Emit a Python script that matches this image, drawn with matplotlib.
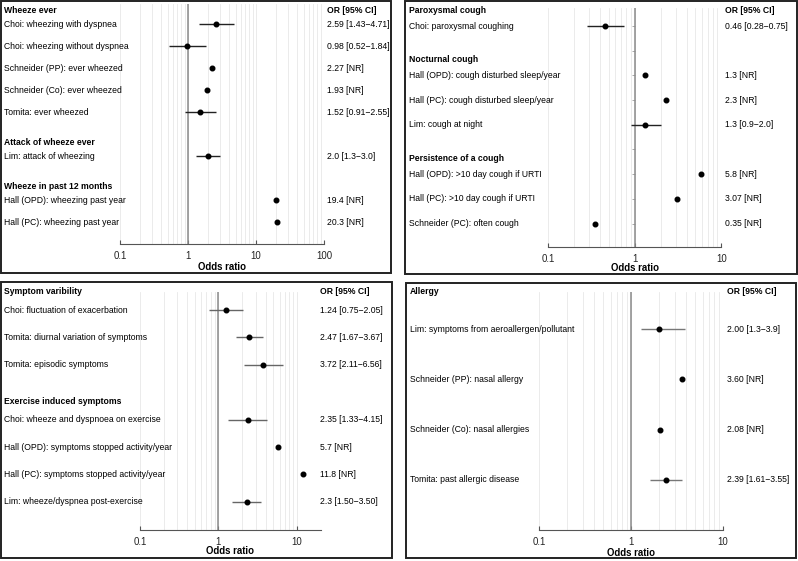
import matplotlib
matplotlib.use("Agg")
import matplotlib.pyplot as plt
from matplotlib.patches import Rectangle
from matplotlib.ticker import FixedLocator, LogLocator, NullFormatter, FuncFormatter
import numpy as np

plt.rcParams['font.family'] = ['Liberation Sans', 'DejaVu Sans']

NR = np.nan
NULL_OR = 1

# --- Wheeze ---
wheeze_sections = ["Wheeze ever", "Attack of wheeze ever", "Wheeze in past 12 months"]
wheeze_sizes = [5, 1, 2]
wheeze_labels = ["Choi: wheezing with dyspnea", "Choi: wheezing without dyspnea",
                 "Schneider (PP): ever wheezed", "Schneider (Co): ever wheezed",
                 "Tomita: ever wheezed", "Lim: attack of wheezing",
                 "Hall (OPD): wheezing past year", "Hall (PC): wheezing past year"]
wheeze_or = [2.59, 0.98, 2.27, 1.93, 1.52, 2.0, 19.4, 20.3]
wheeze_lo = [1.43, 0.52, NR, NR, 0.91, 1.3, NR, NR]
wheeze_hi = [4.71, 1.84, NR, NR, 2.55, 3.0, NR, NR]
wheeze_text = ["2.59 [1.43\u22124.71]", "0.98 [0.52\u22121.84]", "2.27 [NR]", "1.93 [NR]",
               "1.52 [0.91\u22122.55]", "2.0 [1.3\u22123.0]", "19.4 [NR]", "20.3 [NR]"]

# --- Cough ---
cough_sections = ["Paroxysmal cough", "Nocturnal cough", "Persistence of a cough"]
cough_sizes = [1, 3, 3]
cough_labels = ["Choi: paroxysmal coughing", "Hall (OPD): cough disturbed sleep/year",
                "Hall (PC): cough disturbed sleep/year", "Lim: cough at night",
                "Hall (OPD): >10 day cough if URTI", "Hall (PC): >10 day cough if URTI",
                "Schneider (PC): often cough"]
cough_or = [0.46, 1.3, 2.3, 1.3, 5.8, 3.07, 0.35]
cough_lo = [0.28, NR, NR, 0.9, NR, NR, NR]
cough_hi = [0.75, NR, NR, 2.0, NR, NR, NR]
cough_text = ["0.46 [0.28\u22120.75]", "1.3 [NR]", "2.3 [NR]", "1.3 [0.9\u22122.0]",
              "5.8 [NR]", "3.07 [NR]", "0.35 [NR]"]

# --- Variability / exercise ---
var_sections = ["Symptom varibility", "Exercise induced symptoms"]
var_sizes = [3, 4]
var_labels = ["Choi: fluctuation of exacerbation", "Tomita: diurnal variation of symptoms",
              "Tomita: episodic symptoms", "Choi: wheeze and dyspnoea on exercise",
              "Hall (OPD): symptoms stopped activity/year",
              "Hall (PC): symptoms stopped activity/year",
              "Lim: wheeze/dyspnea post-exercise"]
var_or = [1.24, 2.47, 3.72, 2.35, 5.7, 11.8, 2.3]
var_lo = [0.75, 1.67, 2.11, 1.33, NR, NR, 1.50]
var_hi = [2.05, 3.67, 6.56, 4.15, NR, NR, 3.50]
var_text = ["1.24 [0.75\u22122.05]", "2.47 [1.67\u22123.67]", "3.72 [2.11\u22126.56]",
            "2.35 [1.33\u22124.15]", "5.7 [NR]", "11.8 [NR]", "2.3 [1.50\u22123.50]"]

# --- Allergy ---
allergy_sections = ["Allergy"]
allergy_sizes = [4]
allergy_labels = ["Lim: symptoms from aeroallergen/pollutant", "Schneider (PP): nasal allergy",
                  "Schneider (Co): nasal allergies", "Tomita: past allergic disease"]
allergy_or = [2.00, 3.60, 2.08, 2.39]
allergy_lo = [1.3, NR, NR, 1.61]
allergy_hi = [3.9, NR, NR, 3.55]
allergy_text = ["2.00 [1.3\u22123.9]", "3.60 [NR]", "2.08 [NR]", "2.39 [1.61\u22123.55]"]

W, H = 798, 561
fig = plt.figure(figsize=(W / 100, H / 100), dpi=100)
ov = fig.add_axes([0, 0, 1, 1])
ov.set_xlim(0, W)
ov.set_ylim(H, 0)
ov.axis('off')
ov.set_zorder(10)  # text above the grid lines

FS = 6.2


def draw_panel(lay, sections, sizes, labels, ors, los, his, texts):
    x0, y0, x1, y1 = lay['box']
    ov.add_patch(Rectangle((x0, y0), x1 - x0, y1 - y0, fill=False, ec='#222222', lw=1.4))

    # row positions: header rows and item rows follow each other
    rows, head_rows = [], []
    r = 0
    for n in sizes:
        head_rows.append(r)
        rows += list(range(r + 1, r + 1 + n))
        r += n + 1
    ypos = lambda k: lay['row1'] + (k - 1) * lay['step']
    ys = [ypos(k) for k in rows]

    for name, k in zip(sections, head_rows):
        ov.text(lay['label_x'], ypos(k) + lay['head_off'], name, fontsize=FS,
                fontweight='bold', va='center', ha='left')
    ov.text(lay['or_x'], ypos(0) + lay['head_off'], "OR [95% CI]", fontsize=FS,
            fontweight='bold', va='center', ha='left')
    for lab, txt, y in zip(labels, texts, ys):
        ov.text(lay['label_x'], y, lab, fontsize=FS, va='center', ha='left')
        ov.text(lay['or_x'], y, txt, fontsize=FS, va='center', ha='left')

    p01, dec, xmin, xmax = lay['xaxis']
    left = p01 + dec * np.log10(xmin / 0.1)
    right = p01 + dec * np.log10(xmax / 0.1)
    ay, top = lay['axis_y'], lay['top']
    ax = fig.add_axes([left / W, 1 - ay / H, (right - left) / W, (ay - top) / H])
    ax.patch.set_alpha(0)
    ax.set_xscale('log')
    ax.set_xlim(xmin, xmax)
    ax.set_ylim(ay, top)

    ax.xaxis.set_major_locator(FixedLocator([t for t in [0.1, 1, 10, 100] if t <= xmax]))
    ax.xaxis.set_major_formatter(FuncFormatter(lambda v, p: "%g" % v))
    ax.xaxis.set_minor_locator(LogLocator(base=10, subs=range(2, 10)))
    ax.xaxis.set_minor_formatter(NullFormatter())
    ax.grid(True, which='both', axis='x', color='#e8e8e8', lw=0.6)
    ax.set_axisbelow(True)
    ax.tick_params(axis='x', which='major', direction='in', length=3, width=0.8,
                   color='#555555', labelsize=6.9, pad=5, labelcolor='#222222')
    ax.tick_params(axis='x', which='minor', length=0)
    for s in ['top', 'right']:
        ax.spines[s].set_visible(False)
    ax.spines['bottom'].set_color('#555555')
    ax.spines['bottom'].set_linewidth(0.8)

    if lay['ref_ticks']:
        ax.spines['left'].set_position(('data', NULL_OR))
        ax.spines['left'].set_visible(False)
        ax.set_yticks([ypos(k) for k in range(1, r)])
        ax.tick_params(axis='y', length=2, width=0.6, color='#999999', labelleft=False)
    else:
        ax.spines['left'].set_visible(False)
        ax.set_yticks([])

    ax.axvline(NULL_OR, color='#8a8a8a', lw=1.1, zorder=2)

    lo = np.array(los, dtype=float)
    hi = np.array(his, dtype=float)
    ok = ~np.isnan(lo)
    ax.hlines(np.array(ys)[ok], lo[ok], hi[ok], color=lay['ci_color'], lw=1.0, zorder=3)
    ax.plot(ors, ys, 'o', color='black', ms=3.3, zorder=4)

    ov.text((left + right) / 2, lay['xlabel_y'], "Odds ratio", fontsize=6.9,
            fontweight='bold', va='center', ha='center')


lay_wheeze = dict(box=(1, 1, 391, 273), xaxis=(120, 68, 0.1, 100), axis_y=244, top=4,
                  row1=24, step=22, head_off=8, label_x=4, or_x=327, xlabel_y=267,
                  ci_color='#222222', ref_ticks=False)
lay_cough = dict(box=(405, 1, 797, 274), xaxis=(548, 86.7, 0.1, 10), axis_y=247, top=8,
                 row1=26, step=24.7, head_off=9, label_x=409, or_x=725, xlabel_y=268,
                 ci_color='#222222', ref_ticks=True)
lay_var = dict(box=(1, 282, 392, 558), xaxis=(140, 78.5, 0.1, 20), axis_y=530, top=292,
               row1=310, step=27.4, head_off=9, label_x=4, or_x=320, xlabel_y=551,
               ci_color='#666666', ref_ticks=False)
lay_allergy = dict(box=(406, 283, 796, 558), xaxis=(539, 92, 0.1, 10), axis_y=530, top=292,
                   row1=329, step=50.3, head_off=13, label_x=410, or_x=727, xlabel_y=553,
                   ci_color='#777777', ref_ticks=False)

draw_panel(lay_wheeze, wheeze_sections, wheeze_sizes, wheeze_labels,
           wheeze_or, wheeze_lo, wheeze_hi, wheeze_text)
draw_panel(lay_cough, cough_sections, cough_sizes, cough_labels,
           cough_or, cough_lo, cough_hi, cough_text)
draw_panel(lay_var, var_sections, var_sizes, var_labels,
           var_or, var_lo, var_hi, var_text)
draw_panel(lay_allergy, allergy_sections, allergy_sizes, allergy_labels,
           allergy_or, allergy_lo, allergy_hi, allergy_text)

fig.savefig("out.png", dpi=100)
